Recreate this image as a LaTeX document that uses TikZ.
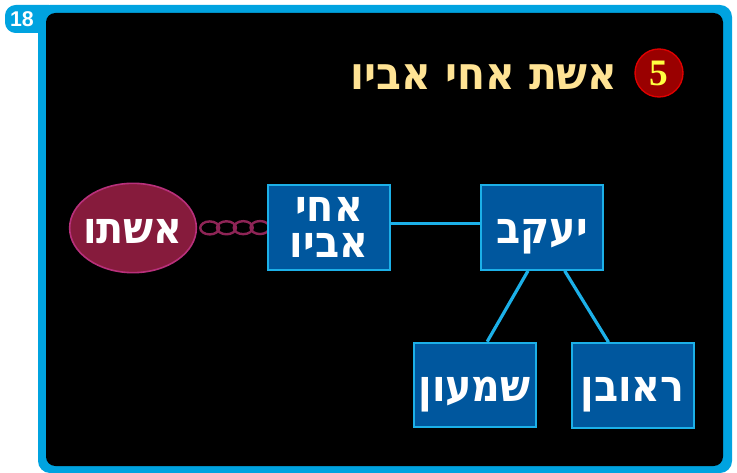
\documentclass[tikz,border=0pt]{standalone}
\usepackage{fontspec}
\setmainfont{Liberation Sans}
\newfontfamily\hebfont[Script=Hebrew]{DejaVu Sans Condensed}
\newfontfamily\numfont{Liberation Serif}
\TeXXeTstate=1
\usetikzlibrary{shapes.geometric,calc}
\pgfdeclarelayer{back}
\pgfdeclarelayer{mid}
\pgfsetlayers{back,mid,main}
\definecolor{framecyan}{HTML}{00A3E0}
\definecolor{boxfill}{HTML}{00579E}
\definecolor{boxline}{HTML}{1CB0E8}
\definecolor{titleyel}{HTML}{FFE394}
\definecolor{circfill}{HTML}{9A0000}
\definecolor{circline}{HTML}{E00000}
\definecolor{fiveyel}{HTML}{FFFF40}
\definecolor{wifefill}{HTML}{861B3C}
\definecolor{wifeline}{HTML}{B8307B}
\definecolor{chaincol}{HTML}{8E2456}
\tikzset{
  personbox/.style={draw=boxline, line width=1.5pt, fill=boxfill, minimum width=91.5pt, minimum height=63.5pt, inner sep=0pt, text=white, font=\hebfont\bfseries\fontsize{33}{27}\selectfont, align=center},
  oneline/.style={text height=24pt, text depth=0pt},
  wifeshape/.style={ellipse, draw=wifeline, line width=1.2pt, fill=wifefill, minimum width=95pt, minimum height=67pt, inner sep=0pt, text=white, font=\hebfont\bfseries\fontsize{33}{33}\selectfont},
  tree/.style={draw=boxline, line width=2.4pt},
  chainlink/.style={draw=chaincol, line width=1.8pt},
}
\begin{document}
\begin{tikzpicture}[x=0.75pt,y=-0.75pt]
\useasboundingbox (0,0) rectangle (737,473);
% frame
\begin{pgfonlayer}{back}
\fill[framecyan, rounded corners=9pt] (38,5) rectangle (732,473);
\fill[framecyan, rounded corners=8pt] (5,5) rectangle (60,33);
\fill[black, rounded corners=7pt] (46,13) rectangle (723,466);
\end{pgfonlayer}
\node[text=white, font=\bfseries\fontsize{16}{16}\selectfont, inner sep=0pt] (num) at (22,19) {18};
% title
\node[text=titleyel, font=\hebfont\bfseries\fontsize{34}{34}\selectfont, inner sep=0pt] (title) at (484,77) {\beginR אשת אחי אביו\endR};
\node[circle, draw=circline, line width=1pt, fill=circfill, minimum size=36pt, inner sep=0pt, text=fiveyel, font=\numfont\bfseries\fontsize{28}{28}\selectfont] (five) at (659,73) {5};
% nodes
\node[wifeshape, oneline] (wife) at (133,228) {\makebox[0pt]{\beginR אשתו\endR}};
\node[personbox] (ahi) at (329,227.5) {\beginR אחי\endR\\\beginR אביו\endR};
\node[personbox, oneline] (yaakov) at (542,227.5) {\beginR יעקב\endR};
\node[personbox, oneline] (shimon) at (474.5,385) {\beginR שמעון\endR};
\node[personbox, oneline] (reuven) at (632.5,385.5) {\beginR ראובן\endR};
% connectors
\draw[tree] ([yshift=3pt]ahi.east) -- ([yshift=3pt]yaakov.west);
\draw[tree] ([xshift=-10.5pt]yaakov.south) -- ([xshift=9.5pt]shimon.north);
\draw[tree] ([xshift=17pt]yaakov.south) -- ([xshift=-18pt]reuven.north);
% chain
\begin{pgfonlayer}{mid}
\foreach \t in {0.18,0.42,0.66,0.9}
  \draw[chainlink] ($(wife.east)!\t!(ahi.west)$) ellipse (9.5 and 6.5);
\end{pgfonlayer}
\end{tikzpicture}
\end{document}
